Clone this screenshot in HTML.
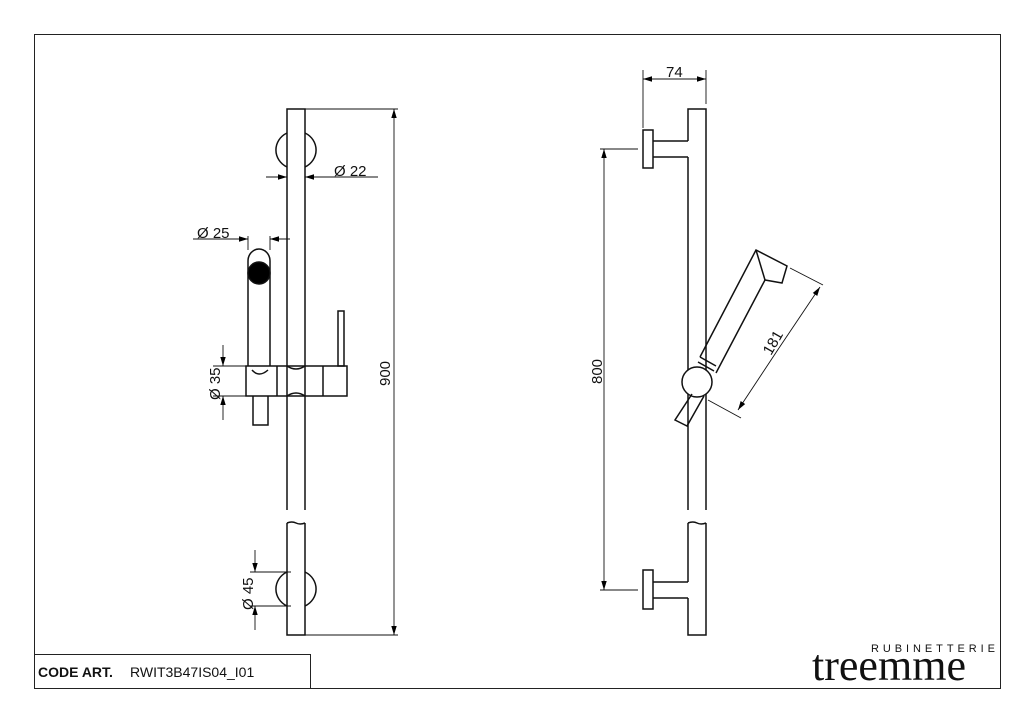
<!DOCTYPE html>
<html><head><meta charset="utf-8"><style>
body{margin:0;background:#fff;}
svg{display:block;}
text{font-family:"Liberation Sans",sans-serif;fill:#111;}
</style></head><body>
<svg width="1024" height="723" viewBox="0 0 1024 723" xmlns="http://www.w3.org/2000/svg">
<defs>
<marker id="a" viewBox="0 0 10 10" refX="10" refY="5" markerWidth="9" markerHeight="9" markerUnits="userSpaceOnUse" orient="auto-start-reverse"><path d="M0,2 L10,5 L0,8 Z" fill="#000"/></marker>
</defs>
<g fill="none" stroke="#222" stroke-width="1">
<rect x="34.5" y="34.5" width="966" height="654"/>
<polyline points="34.5,654.5 310.5,654.5 310.5,688.5"/>
</g>
<g fill="none" stroke="#111" stroke-width="1.5">
<path d="M287,510 L287,109 L305,109 L305,510"/>
<path d="M287,523 Q292,521 296,523 Q300,525 305,523 M287,523 L287,635 L305,635 L305,523"/>
<path d="M287,133 A20,19 0 0 0 287,167 M305,133 A20,19 0 0 1 305,167"/>
<path d="M287,572 A20,19 0 0 0 287,606 M305,572 A20,19 0 0 1 305,606"/>
<path d="M248,366 L248,261 A11,12 0 0 1 270,261 L270,366"/>
<circle cx="259" cy="273" r="11" fill="#000"/>
<path d="M252,370 Q259,378 268,370"/>
<rect x="246" y="366" width="101" height="30"/>
<path d="M277,366 L277,396 M323,366 L323,396"/>
<path d="M287,366 Q296,372 305,366 M287,396 Q296,390 305,396"/>
<rect x="338" y="311" width="6" height="55"/>
<path d="M253,396 L253,425 L268,425 L268,396"/>
<path d="M688,141 L688,109 L706,109 L706,510 M688,157 L688,510"/>
<path d="M688,523 Q693,521 697,523 Q701,525 706,523 M706,523 L706,635 L688,635 L688,598 M688,582 L688,523"/>
<rect x="643" y="130" width="10" height="38"/>
<path d="M653,141 L688,141 M653,157 L688,157"/>
<rect x="643" y="570" width="10" height="39"/>
<path d="M653,582 L688,582 M653,598 L688,598"/>
<path d="M700,357 L756,250 L787,266 L782,283 L765,280 L716,373"/>
<path d="M756,250 L765,280"/>
<path d="M700,357 L716,366 M698,362 L714,371"/>
<circle cx="697" cy="382" r="15" fill="#fff"/>
<path d="M692,394 L675,420 L687,426 L704,396"/>
</g>
<g fill="none" stroke="#111" stroke-width="0.9">
<line x1="266" y1="177" x2="287" y2="177" marker-end="url(#a)"/>
<line x1="378" y1="177" x2="305" y2="177" marker-end="url(#a)"/>
<line x1="193" y1="239" x2="248" y2="239" marker-end="url(#a)"/>
<line x1="290" y1="239" x2="270" y2="239" marker-end="url(#a)"/>
<path d="M248,236 L248,250 M270,236 L270,250"/>
<line x1="223" y1="345" x2="223" y2="366" marker-end="url(#a)"/>
<line x1="223" y1="420" x2="223" y2="396" marker-end="url(#a)"/>
<path d="M213,366 L246,366 M213,396 L246,396"/>
<path d="M305,109 L398,109 M305,635 L398,635"/>
<line x1="394" y1="372" x2="394" y2="109" marker-end="url(#a)"/>
<line x1="394" y1="372" x2="394" y2="635" marker-end="url(#a)"/>
<line x1="255" y1="550" x2="255" y2="572" marker-end="url(#a)"/>
<line x1="255" y1="630" x2="255" y2="606" marker-end="url(#a)"/>
<path d="M250,572 L291,572 M250,606 L291,606"/>
<path d="M643,70 L643,128 M706,70 L706,104"/>
<line x1="675" y1="79" x2="643" y2="79" marker-end="url(#a)"/>
<line x1="675" y1="79" x2="706" y2="79" marker-end="url(#a)"/>
<path d="M600,149 L638,149 M600,590 L638,590"/>
<line x1="604" y1="370" x2="604" y2="149" marker-end="url(#a)"/>
<line x1="604" y1="370" x2="604" y2="590" marker-end="url(#a)"/>
<path d="M790,268 L823,285 M708,400 L741,418"/>
<line x1="779" y1="348" x2="820" y2="287" marker-end="url(#a)"/>
<line x1="779" y1="348" x2="738" y2="410" marker-end="url(#a)"/>
</g>
<g font-size="15">
<text x="334" y="176">Ø 22</text>
<text x="197" y="238">Ø 25</text>
<text x="666" y="77">74</text>
<text transform="translate(220,400) rotate(-90)">Ø 35</text>
<text transform="translate(390,386) rotate(-90)">900</text>
<text transform="translate(253,610) rotate(-90)">Ø 45</text>
<text transform="translate(602,384) rotate(-90)">800</text>
<text transform="translate(771,356) rotate(-60)">181</text>
</g>
<text x="38" y="677" font-size="14" font-weight="bold">CODE ART.</text>
<text x="130" y="677" font-size="14">RWIT3B47IS04_I01</text>
<text x="871" y="652" font-size="11" textLength="124" lengthAdjust="spacing">RUBINETTERIE</text>
<text x="812" y="680" font-size="44" textLength="154" lengthAdjust="spacingAndGlyphs" style="font-family:'Liberation Serif',serif">treemme</text>
</svg>
</body></html>
